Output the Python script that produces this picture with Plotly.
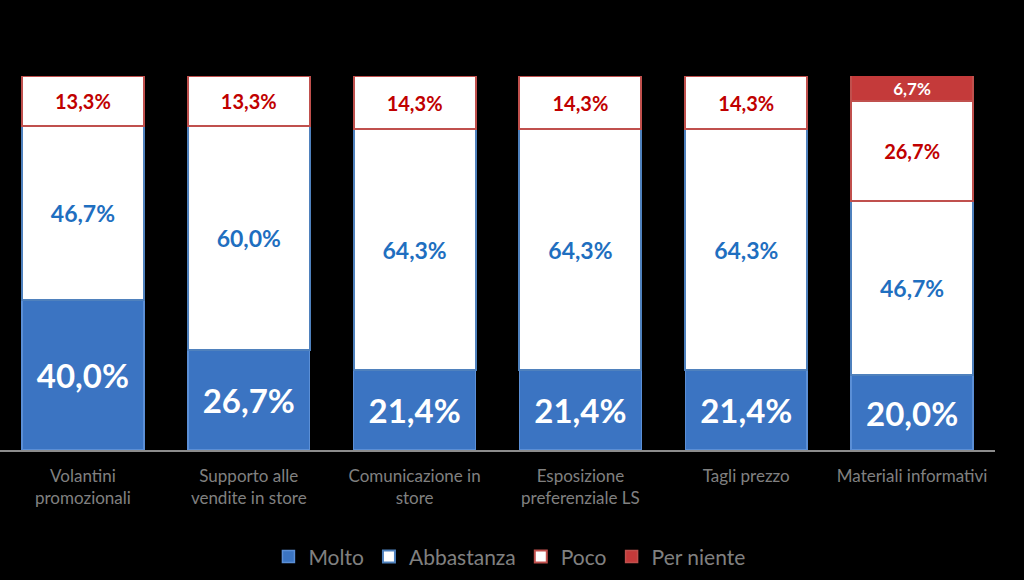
import plotly.graph_objects as go

categories = ["Volantini<br>promozionali", "Supporto alle<br>vendite in store",
              "Comunicazione in<br>store", "Esposizione<br>preferenziale LS",
              "Tagli prezzo", "Materiali informativi"]
molto = [40.0, 26.7, 21.4, 21.4, 21.4, 20.0]
abbastanza = [46.7, 60.0, 64.3, 64.3, 64.3, 46.7]
poco = [13.3, 13.3, 14.3, 14.3, 14.3, 26.7]
per_niente = [None, None, None, None, None, 6.7]

FONT = "Lato"

fig = go.Figure()
fig.add_trace(go.Bar(
    name="Molto", x=categories, y=molto,
    marker=dict(color="#3b74c2", line=dict(color="#5b8fd6", width=1.5)),
    texttemplate="%{y:.1f}%", textposition="inside", insidetextanchor="middle",
    textfont=dict(family=FONT, size=33, color="white", weight="bold"),
    constraintext="none"))
fig.add_trace(go.Bar(
    name="Abbastanza", x=categories, y=abbastanza,
    marker=dict(color="white", line=dict(color="#4f81bd", width=2)),
    texttemplate="%{y:.1f}%", textposition="inside", insidetextanchor="middle",
    textfont=dict(family=FONT, size=23, color="#1f6fc0", weight="bold"),
    constraintext="none"))
fig.add_trace(go.Bar(
    name="Poco", x=categories, y=poco,
    marker=dict(color="white", line=dict(color="#c0504d", width=2)),
    texttemplate="%{y:.1f}%", textposition="inside", insidetextanchor="middle",
    textfont=dict(family=FONT, size=20, color="#c00000", weight="bold"),
    constraintext="none"))
fig.add_trace(go.Bar(
    name="Per niente", x=categories, y=per_niente,
    marker=dict(color="#c43a3a", line=dict(color="#c0504d", width=1.5)),
    texttemplate="%{y:.1f}%", textposition="inside", insidetextanchor="middle",
    textfont=dict(family=FONT, size=17, color="white", weight="bold"),
    constraintext="none"))

fig.update_layout(
    barmode="stack", bargap=0.265,
    width=1024, height=580,
    margin=dict(l=0, r=29, t=76, b=130),
    paper_bgcolor="black", plot_bgcolor="black",
    separators=",.",
    showlegend=True,
    legend=dict(orientation="h", x=0.512, xanchor="center", y=-0.286, yanchor="middle",
                font=dict(family=FONT, size=21, color="#808080"),
                traceorder="normal", itemwidth=30, bgcolor="rgba(0,0,0,0)"),
    font=dict(family=FONT),
)
fig.update_xaxes(showline=True, linecolor="#8c8c8c", linewidth=1.5, ticks="",
                 tickfont=dict(family=FONT, size=17, color="#808080"),
                 ticklabelstandoff=10,
                 showgrid=False)
fig.update_yaxes(range=[0, 100], visible=False, showgrid=False)

fig.write_html("out.html", config={"displayModeBar": False},
               post_script="document.body.style.margin='0';document.body.style.background='black';document.body.style.overflow='hidden';")
